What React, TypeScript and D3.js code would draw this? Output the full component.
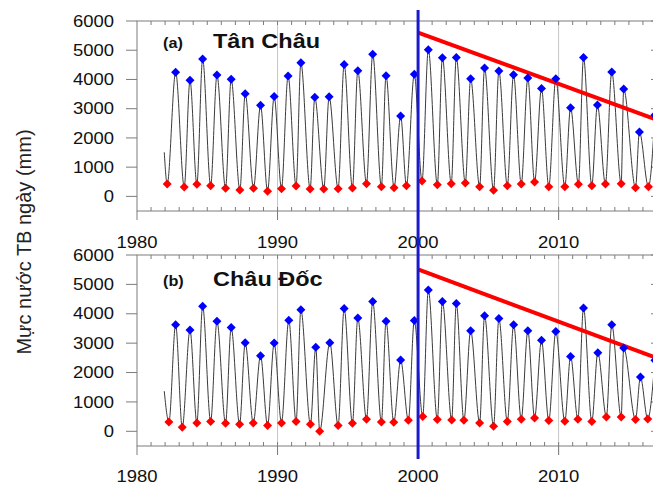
import React, { useEffect, useRef } from "react";
import * as d3 from "d3";

type Pt = [number, number];

const xTicks = [1980, 1990, 2000, 2010];
const yTicks = [0, 1000, 2000, 3000, 4000, 5000, 6000];
const splitYear = 2000;

// Tân Châu: annual peaks (blue) and lows (red), year as decimal
const tanChauStart: Pt = [1981.94, 1508];
const tanChauMax: Pt[] = [
  [1982.75, 4245], [1983.77, 3970], [1984.67, 4700], [1985.69, 4150], [1986.7, 4005],
  [1987.7, 3515], [1988.79, 3115], [1989.76, 3420], [1990.75, 4120], [1991.66, 4575],
  [1992.65, 3390], [1993.67, 3410], [1994.74, 4515], [1995.71, 4300], [1996.77, 4860],
  [1997.72, 4130], [1998.76, 2750], [1999.73, 4175], [2000.73, 5020], [2001.73, 4745],
  [2002.72, 4755], [2003.74, 4025], [2004.73, 4390], [2005.75, 4290], [2006.79, 4165],
  [2007.81, 4050], [2008.78, 3695], [2009.8, 4025], [2010.85, 3035], [2011.77, 4755],
  [2012.76, 3125], [2013.78, 4255], [2014.63, 3675], [2015.75, 2205], [2016.85, 2780],
];
const tanChauMin: Pt[] = [
  [1982.15, 423], [1983.36, 321], [1984.26, 412], [1985.24, 365], [1986.3, 276],
  [1987.32, 218], [1988.29, 276], [1989.29, 173], [1990.28, 263], [1991.32, 355],
  [1992.32, 252], [1993.29, 252], [1994.31, 263], [1995.33, 287], [1996.33, 434],
  [1997.39, 331], [1998.29, 297], [1999.17, 365], [2000.28, 526], [2001.37, 400],
  [2002.36, 434], [2003.36, 458], [2004.38, 331], [2005.37, 208], [2006.35, 365],
  [2007.34, 423], [2008.29, 492], [2009.3, 331], [2010.44, 331], [2011.41, 412],
  [2012.36, 365], [2013.33, 423], [2014.45, 434], [2015.47, 297], [2016.39, 331],
];
const tanChauTrend: Pt[] = [[2000, 5600], [2017, 2620]];

// Châu Đốc
const chauDocStart: Pt = [1981.94, 1365];
const chauDocMax: Pt[] = [
  [1982.75, 3630], [1983.77, 3450], [1984.67, 4260], [1985.69, 3745], [1986.7, 3530],
  [1987.7, 3015], [1988.79, 2575], [1989.76, 3005], [1990.8, 3780], [1991.66, 4135],
  [1992.72, 2860], [1993.72, 3015], [1994.74, 4180], [1995.71, 3860], [1996.77, 4415],
  [1997.72, 3745], [1998.76, 2425], [1999.73, 3770], [2000.73, 4805], [2001.73, 4415],
  [2002.72, 4350], [2003.74, 3425], [2004.73, 3930], [2005.75, 3835], [2006.8, 3630],
  [2007.81, 3425], [2008.78, 3095], [2009.8, 3395], [2010.85, 2550], [2011.77, 4200],
  [2012.79, 2675], [2013.78, 3630], [2014.63, 2835], [2015.82, 1845], [2016.85, 2415],
];
const chauDocMin: Pt[] = [
  [1982.27, 320], [1983.22, 136], [1984.26, 286], [1985.24, 331], [1986.3, 273],
  [1987.3, 238], [1988.27, 286], [1989.29, 194], [1990.28, 286], [1991.32, 331],
  [1992.34, 238], [1993.0, 0], [1994.31, 194], [1995.33, 273], [1996.33, 409],
  [1997.39, 320], [1998.27, 307], [1999.31, 375], [2000.33, 501], [2001.37, 399],
  [2002.39, 389], [2003.26, 375], [2004.38, 286], [2005.37, 170], [2006.35, 331],
  [2007.34, 409], [2008.29, 457], [2009.3, 365], [2010.44, 342], [2011.37, 409],
  [2012.36, 331], [2013.4, 491], [2014.45, 491], [2015.47, 399], [2016.34, 420],
];
const chauDocTrend: Pt[] = [[2000, 5510], [2017, 2490]];

const panels = [
  { tag: "(a)", title: "Tân Châu", start: tanChauStart, max: tanChauMax, min: tanChauMin, trend: tanChauTrend, top: 21, bottom: 211, labelY: 242, titleY: 48 },
  { tag: "(b)", title: "Châu Đốc", start: chauDocStart, max: chauDocMax, min: chauDocMin, trend: chauDocTrend, top: 255, bottom: 446, labelY: 476, titleY: 286 },
];

const FONT = "'Liberation Sans', Arial, sans-serif";
const STRETCH = 1.12;

const App: React.FC = () => {
  const svgRef = useRef<SVGSVGElement | null>(null);

  useEffect(() => {
    if (!svgRef.current) return;
    const svg = d3.select(svgRef.current);
    svg.selectAll("*").remove();

    const x = d3.scaleLinear().domain([1980, 2017]).range([137, 657]);
    const years = d3.range(1981, 2017);
    const diamond = "M0,-4.5L4.5,0L0,4.5L-4.5,0Z";

    panels.forEach(p => {
      const y = d3.scaleLinear().domain([-500, 6000]).range([p.bottom, p.top]);
      const g = svg.append("g");

      // decade grid lines
      g.selectAll("line.grid")
        .data(xTicks.filter(t => t > 1980))
        .enter().append("line")
        .attr("x1", d => x(d)).attr("x2", d => x(d))
        .attr("y1", p.top).attr("y2", p.bottom + 9)
        .attr("stroke", "#c6c6c6");

      g.append("rect")
        .attr("x", x(1980)).attr("y", p.top)
        .attr("width", x(2017) - x(1980)).attr("height", p.bottom - p.top)
        .attr("fill", "none").attr("stroke", "#7c7c7c");

      // minor ticks top & bottom, inward
      g.selectAll("line.mt")
        .data(years).enter().append("line")
        .attr("x1", d => x(d)).attr("x2", d => x(d))
        .attr("y1", p.top).attr("y2", p.top + 4)
        .attr("stroke", "#7c7c7c");
      g.selectAll("line.mb")
        .data(years).enter().append("line")
        .attr("x1", d => x(d)).attr("x2", d => x(d))
        .attr("y1", p.bottom).attr("y2", p.bottom - 4)
        .attr("stroke", "#7c7c7c");
      g.selectAll("line.dt")
        .data(xTicks).enter().append("line")
        .attr("x1", d => x(d)).attr("x2", d => x(d))
        .attr("y1", p.bottom).attr("y2", p.bottom + 9)
        .attr("stroke", "#7c7c7c");

      // y ticks: left outward, right inward
      g.selectAll("line.yl")
        .data(yTicks).enter().append("line")
        .attr("x1", x(1980) - 11).attr("x2", x(1980))
        .attr("y1", d => y(d)).attr("y2", d => y(d))
        .attr("stroke", "#7c7c7c");
      g.selectAll("line.yr")
        .data(yTicks).enter().append("line")
        .attr("x1", x(2017) - 6).attr("x2", x(2017))
        .attr("y1", d => y(d)).attr("y2", d => y(d))
        .attr("stroke", "#7c7c7c");

      g.selectAll("text.yt")
        .data(yTicks).enter().append("text")
        .attr("transform", d => `translate(114,${y(d)}) scale(${STRETCH},1)`)
        .attr("text-anchor", "end")
        .attr("dominant-baseline", "central")
        .style("font-family", FONT).style("font-size", "16.5px").attr("fill", "#111")
        .text(d => d);

      g.selectAll("text.xt")
        .data(xTicks).enter().append("text")
        .attr("transform", d => `translate(${x(d)},${p.labelY}) scale(${STRETCH},1)`)
        .attr("text-anchor", "middle")
        .attr("dominant-baseline", "central")
        .style("font-family", FONT).style("font-size", "16.5px").attr("fill", "#111")
        .text(d => d);

      // daily water level trace through annual highs and lows
      const keys = [p.start, ...p.min, ...p.max].sort((a, b) => a[0] - b[0]);
      const line = d3.line<Pt>().x(d => x(d[0])).y(d => y(d[1])).curve(d3.curveMonotoneX);
      g.append("path")
        .attr("d", line(keys))
        .attr("fill", "none")
        .attr("stroke", "#3a3a3a")
        .attr("stroke-width", 1);

      g.append("path")
        .attr("d", d3.line<Pt>().x(d => x(d[0])).y(d => y(d[1]))(p.trend))
        .attr("stroke", "#ff0000")
        .attr("stroke-width", 4);

      g.selectAll("path.mx")
        .data(p.max).enter().append("path")
        .attr("d", diamond)
        .attr("transform", d => `translate(${x(d[0])},${y(d[1])})`)
        .attr("fill", "#0000ff");
      g.selectAll("path.mn")
        .data(p.min).enter().append("path")
        .attr("d", diamond)
        .attr("transform", d => `translate(${x(d[0])},${y(d[1])})`)
        .attr("fill", "#ff0000");

      g.append("text")
        .attr("transform", `translate(163,${p.titleY}) scale(${STRETCH},1)`)
        .style("font-family", FONT).style("font-size", "14.5px").style("font-weight", "bold")
        .attr("fill", "#111")
        .text(p.tag);
      g.append("text")
        .attr("transform", `translate(213,${p.titleY}) scale(${STRETCH},1)`)
        .style("font-family", FONT).style("font-size", "21px").style("font-weight", "bold")
        .attr("fill", "#111")
        .text(p.title);
    });

    // split line at 2000
    svg.append("line")
      .attr("x1", x(splitYear)).attr("x2", x(splitYear))
      .attr("y1", 10).attr("y2", 459)
      .attr("stroke", "#1a1acc")
      .attr("stroke-width", 3);

    svg.append("text")
      .attr("transform", "translate(24,242) rotate(-90)")
      .attr("text-anchor", "middle")
      .attr("dominant-baseline", "central")
      .style("font-family", FONT).style("font-size", "20px")
      .attr("fill", "#222")
      .text("Mực nước TB ngày (mm)");
  }, []);

  return (
    <svg ref={svgRef} width={653} height={485}
      style={{ position: "absolute", left: 0, top: 0, background: "#fff" }} />
  );
};

export default App;
